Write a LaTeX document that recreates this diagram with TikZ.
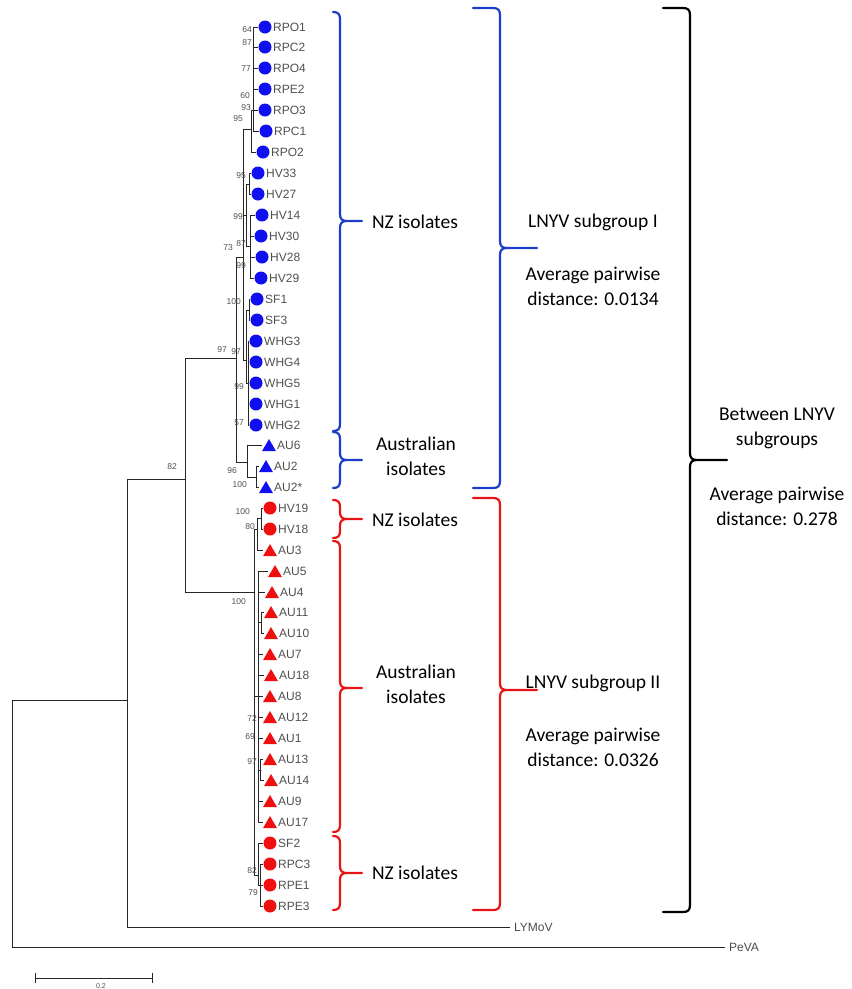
\documentclass[tikz,border=0pt]{standalone}
\usepackage{fontspec}
\setmainfont{Carlito}
\newfontfamily\treefont{Liberation Sans}
\usetikzlibrary{shapes.geometric}

\definecolor{dotblue}{RGB}{15,15,240}
\definecolor{brblue}{RGB}{30,60,200}
\definecolor{dotred}{RGB}{240,15,15}
\definecolor{brred}{RGB}{232,20,20}
\definecolor{labgray}{RGB}{80,80,80}

% group brace: colour, left end, spine x, top, bottom, tip y, tip x
\newcommand{\grpbrace}[7]{%
  \draw[#1, line width=2.2pt, line cap=round, line join=round]
    (#2,#4) -- (#3-7,#4) .. controls (#3-2,#4) and (#3,#4+2) .. (#3,#4+7)
    -- (#3,#6-7) .. controls (#3,#6-2) and (#3+2,#6) .. (#3+7,#6) -- (#7,#6)
    (#3+7,#6) .. controls (#3+2,#6) and (#3,#6+2) .. (#3,#6+7)
    -- (#3,#5-7) .. controls (#3,#5-2) and (#3-2,#5) .. (#3-7,#5) -- (#2,#5);}

\begin{document}
\begin{tikzpicture}[x=1pt, y=-1pt,
    branch/.style = {draw=black!85, line width=0.9pt},
    dot/.style = {circle, inner sep=0pt, minimum size=13pt},
    tri/.style = {regular polygon, regular polygon sides=3, inner sep=0pt, minimum size=16pt, yshift=-2pt},
    leaf/.style = {anchor=west, inner sep=0pt, text=labgray, font=\treefont\fontsize{12}{14}\selectfont},
    bs/.style = {anchor=east, inner sep=0pt, text=labgray, font=\treefont\fontsize{8.5}{9}\selectfont},
    grp/.style = {align=center, inner sep=0pt, font=\fontsize{19.5}{25}\selectfont}]
\useasboundingbox (0,0) rectangle (852,989);

% internal nodes of the tree
\coordinate (root) at (12,700);
\coordinate (nA) at (127,700);
\coordinate (nB) at (185,479);
\coordinate (nI) at (236,358);
\coordinate (n73) at (243,257);
\coordinate (n95) at (251,129);
\coordinate (nrpo) at (253,110);
\coordinate (nhv) at (246,215);
\coordinate (nhv1) at (249,184);
\coordinate (nhv2) at (250,246);
\coordinate (nsw) at (246,360);
\coordinate (nsf) at (249,310);
\coordinate (nwhg) at (248,383);
\coordinate (n96) at (247,462);
\coordinate (n100) at (256,477);
\coordinate (nII) at (254,592);
\coordinate (nh) at (257,529);
\coordinate (nhh) at (261,518);
\coordinate (nau) at (258,696);
\coordinate (n11) at (261,622);
\coordinate (n13) at (260,770);
\coordinate (nnz) at (258,875);
\coordinate (nr) at (260,885);
\coordinate (LYMoV) at (510,927);
\coordinate (PeVA) at (725,947);

\foreach \p/\c in {root/nA, root/PeVA, nA/nB, nA/LYMoV, nB/nI, nB/nII, nI/n73, nI/n96,
    n73/n95, n73/nhv, n73/nsw, n95/nrpo, nhv/nhv1, nhv/nhv2, nsw/nsf, nsw/nwhg,
    n96/n100, nII/nh, nII/nau, nII/nnz, nh/nhh, nau/n11, nau/n13, nnz/nr}
  \draw[branch] (\p) |- (\c);

\node[leaf, text=black!70] (lLY) at (514,927) {LYMoV};
\node[leaf, text=black!70] (lPe) at (729,947) {PeVA};

% subgroup I
\foreach \n/\lab/\y/\tx/\shp/\p in {RPO1/RPO1/27/258/dot/nrpo, RPC2/RPC2/47/258/dot/nrpo,
    RPO4/RPO4/68/258/dot/nrpo, RPE2/RPE2/89/258/dot/nrpo, RPO3/RPO3/110/258/dot/nrpo,
    RPC1/RPC1/131/259/dot/nrpo, RPO2/RPO2/152/256/dot/n95,
    HV33/HV33/173/251/dot/nhv1, HV27/HV27/194/251/dot/nhv1,
    HV14/HV14/215/255/dot/nhv2, HV30/HV30/236/254/dot/nhv2, HV28/HV28/257/255/dot/nhv2,
    HV29/HV29/278/254/dot/nhv2, SF1/SF1/299/250/dot/nsf, SF3/SF3/320/250/dot/nsf,
    WHG3/WHG3/341/249/dot/nwhg, WHG4/WHG4/362/249/dot/nwhg, WHG5/WHG5/383/249/dot/nwhg,
    WHG1/WHG1/404/249/dot/nwhg, WHG2/WHG2/425/249/dot/nwhg,
    AU6/AU6/445/262/tri/n96, AU2/AU2/466/259/tri/n100, AU2s/AU2*/487/259/tri/n100}
{
  \coordinate (\n) at (\tx,\y);
  \draw[branch] (\p) |- (\n);
  \node[\shp, fill=dotblue] (m\n) at (\tx+7,\y) {};
  \node[leaf] (l\n) at (\tx+15,\y) {\lab};
}

% subgroup II
\foreach \n/\lab/\y/\tx/\shp/\p in {HV19/HV19/508/263/dot/nhh, HV18/HV18/529/263/dot/nhh,
    AU3/AU3/550/263/tri/nh, AU5/AU5/571/268/tri/nau, AU4/AU4/592/265/tri/nau,
    AU11/AU11/612/264/tri/n11, AU10/AU10/633/264/tri/n11, AU7/AU7/654/263/tri/nau,
    AU18/AU18/675/264/tri/nau, AU8/AU8/696/263/tri/nau, AU12/AU12/717/263/tri/nau,
    AU1/AU1/738/263/tri/nau, AU13/AU13/759/263/tri/n13, AU14/AU14/780/264/tri/n13,
    AU9/AU9/801/263/tri/nau, AU17/AU17/822/263/tri/nau, SF2/SF2/843/263/dot/nnz,
    RPC3/RPC3/864/263/dot/nr, RPE1/RPE1/885/263/dot/nr, RPE3/RPE3/906/263/dot/nr}
{
  \coordinate (\n) at (\tx,\y);
  \draw[branch] (\p) |- (\n);
  \node[\shp, fill=dotred] (m\n) at (\tx+7,\y) {};
  \node[leaf] (l\n) at (\tx+15,\y) {\lab};
}

% bootstrap values
\foreach \v/\x/\y [count=\i] in {64/252/30, 87/252/43, 77/251/69, 60/250/96, 93/251/108,
    95/243/119, 95/246/176, 99/243/217, 87/246/244, 99/246/266, 73/233/248,
    100/241/302, 97/241/352, 99/244/387, 57/244/423, 97/227/350, 96/237/471,
    100/247/485, 82/177/467, 100/250/512, 80/255/527, 100/246/602,
    72/257/719, 69/255/737, 97/257/762, 82/257/871, 79/258/893}
  \node[bs] (bs\i) at (\x,\y) {\v};

% scale bar
\coordinate (sbL) at (35,978);
\coordinate (sbR) at (152,978);
\draw[branch, line width=0.8pt] (sbL) -- (sbR);
\draw[branch, line width=0.8pt] (35,973) -- (35,983) (152,973) -- (152,983);
\node[bs, anchor=north, font=\treefont\fontsize{7}{8}\selectfont] (sbT) at (101,983) {0.2};

% braces
\grpbrace{brblue}{333}{340}{12}{431}{221}{362}
\grpbrace{brblue}{333}{340}{432}{488}{460}{362}
\grpbrace{brblue}{473}{500}{8}{488}{248}{537}
\grpbrace{brred}{333}{340}{500}{538}{519}{362}
\grpbrace{brred}{333}{340}{541}{832}{688}{362}
\grpbrace{brred}{333}{340}{836}{910}{873}{362}
\grpbrace{brred}{473}{500}{498}{910}{690}{537}
\grpbrace{black}{663}{690}{8}{912}{460}{727}

\node[grp] (nzI) at (415,222) {NZ isolates};
\node[grp] (auI) at (416,456) {Australian\\isolates};
\node[grp] (sgI) at (593,222) {LNYV subgroup I};
\node[grp] (apI) at (593,286) {Average pairwise\\distance: 0.0134};
\node[grp] (btw) at (777,428) {Between LNYV\\subgroups};
\node[grp] (apB) at (777,506) {Average pairwise\\distance: 0.278};
\node[grp] (nzII) at (415,520) {NZ isolates};
\node[grp] (auII) at (416,684) {Australian\\isolates};
\node[grp] (nzIII) at (415,873) {NZ isolates};
\node[grp] (sgII) at (593,683) {LNYV subgroup II};
\node[grp] (apII) at (593,747) {Average pairwise\\distance: 0.0326};
\end{tikzpicture}
\end{document}
